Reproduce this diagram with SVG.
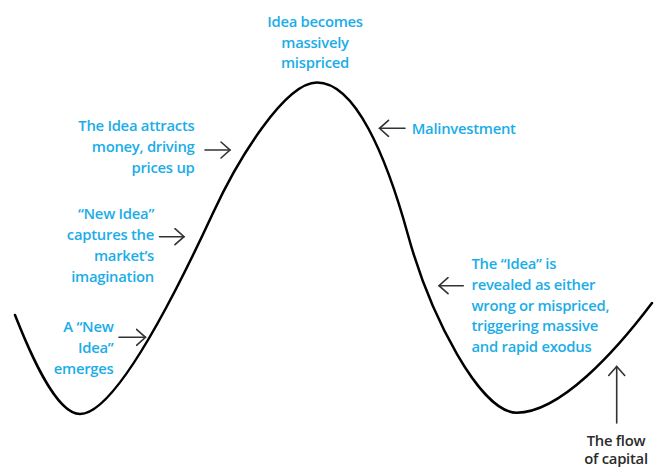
<svg xmlns="http://www.w3.org/2000/svg" width="654" height="467" viewBox="0 0 654 467">
  <defs>
    <style>
      .lbl { font-family: "Open Sans", "Noto Sans", "Liberation Sans", sans-serif; font-size: 14.8px; font-weight: 600; letter-spacing: -0.25px; fill: #1aade8; }
      .dark { fill: #2b2b2b; }
      .curve { fill: none; stroke: #000; stroke-width: 2.5; stroke-linecap: round; stroke-linejoin: round; }
      .arrow { fill: none; stroke: #333; stroke-width: 1.6; stroke-linecap: round; }
      .head { fill: none; stroke: #333; stroke-width: 1.6; stroke-linecap: round; stroke-linejoin: miter; }
    </style>
    <marker id="chev" viewBox="-10 -9 12 18" markerWidth="12" markerHeight="18" refX="0" refY="0" orient="auto" markerUnits="userSpaceOnUse">
      <path class="head" d="M-9,-8 L0,0 L-9,8"/>
    </marker>
  </defs>
  <rect width="654" height="467" fill="#fff"/>

  <!-- price / capital-flow curve -->
  <g id="cycle-curve">
    <path class="curve" d="M15,315 C28,348 55,414 80,414 C115,414 175,295 213,213 C238,159 285,82.5 317,82.5 C355,82.5 386,155 408,235 C430,315 480,412.7 516.7,412.7 C560,412.7 615,352 652,303"/>
  </g>

  <!-- connectors -->
  <g id="connectors">
    <line class="arrow" x1="119" y1="337.3" x2="145.5" y2="337.3" marker-end="url(#chev)"/>
    <line class="arrow" x1="159.5" y1="236.7" x2="184" y2="236.7" marker-end="url(#chev)"/>
    <line class="arrow" x1="205" y1="150" x2="230" y2="150" marker-end="url(#chev)"/>
    <line class="arrow" x1="405" y1="128.3" x2="379.5" y2="128.3" marker-end="url(#chev)"/>
    <line class="arrow" x1="463.3" y1="285.7" x2="439" y2="285.7" marker-end="url(#chev)"/>
    <line class="arrow" x1="616.7" y1="423" x2="616.7" y2="366.5" marker-end="url(#chev)"/>
  </g>

  <g id="peak-label">
    <text class="lbl" text-anchor="middle" x="315" y="26.7">Idea becomes</text>
    <text class="lbl" text-anchor="middle" x="315" y="47.5">massively</text>
    <text class="lbl" text-anchor="middle" x="315" y="68.3">mispriced</text>
  </g>

  <g id="malinvestment">
    <text class="lbl" x="411.7" y="134">Malinvestment</text>
  </g>

  <g id="attracts-money">
    <text class="lbl" text-anchor="end" x="194.5" y="130.7">The Idea attracts</text>
    <text class="lbl" text-anchor="end" x="194.5" y="152">money, driving</text>
    <text class="lbl" text-anchor="end" x="194.5" y="173.3">prices up</text>
  </g>

  <g id="captures-market">
    <text class="lbl" text-anchor="end" x="154" y="219">“New Idea”</text>
    <text class="lbl" text-anchor="end" x="154" y="240">captures the</text>
    <text class="lbl" text-anchor="end" x="154" y="261.2">market’s</text>
    <text class="lbl" text-anchor="end" x="154" y="282.3">imagination</text>
  </g>

  <g id="new-idea">
    <text class="lbl" text-anchor="end" x="113.5" y="332.3">A “New</text>
    <text class="lbl" text-anchor="end" x="113.5" y="353.3">Idea”</text>
    <text class="lbl" text-anchor="end" x="113.5" y="374.3">emerges</text>
  </g>

  <g id="exodus">
    <text class="lbl" x="471.5" y="269">The “Idea” is</text>
    <text class="lbl" x="471.5" y="289.8">revealed as either</text>
    <text class="lbl" x="471.5" y="310.6">wrong or mispriced,</text>
    <text class="lbl" x="471.5" y="331.4">triggering massive</text>
    <text class="lbl" x="471.5" y="352.2">and rapid exodus</text>
  </g>

  <g id="capital-flow">
    <text class="lbl dark" text-anchor="middle" x="616" y="445.5">The flow</text>
    <text class="lbl dark" text-anchor="middle" x="616" y="464">of capital</text>
  </g>
</svg>
